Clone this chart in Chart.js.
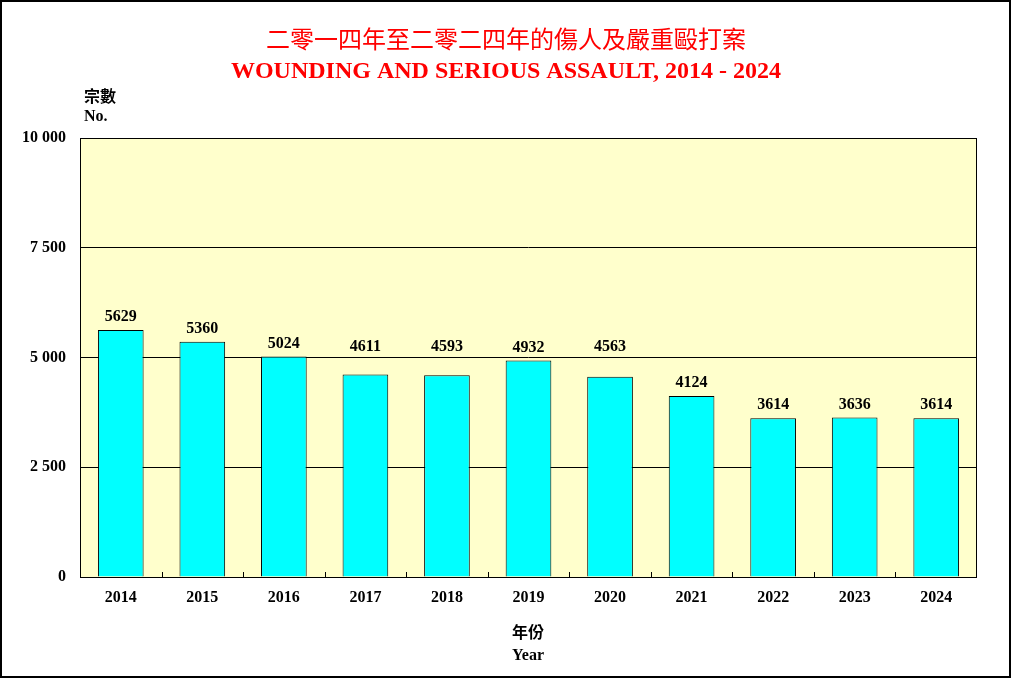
<!DOCTYPE html>
<html>
<head>
<meta charset="utf-8">
<script src="https://cdn.jsdelivr.net/npm/chart.js@4"></script>
<style>
  html, body { margin: 0; padding: 0; background: #fff; }
  #wrap { width: 1011px; height: 678px; position: relative; }
</style>
</head>
<body>
<div id="wrap"><canvas id="assaultChart"></canvas></div>
<script>
// ===== data =====
const years = ['2014', '2015', '2016', '2017', '2018', '2019', '2020', '2021', '2022', '2023', '2024'];
const cases = [5629, 5360, 5024, 4611, 4593, 4932, 4563, 4124, 3614, 3636, 3614];
const yTicks = [0, 2500, 5000, 7500, 10000];

const SERIF = '"Liberation Serif", "Times New Roman", serif';
const CJK = '"Liberation Serif", "Noto Sans CJK TC", serif';

// labels, frame, titles
const decorPlugin = {
    id: 'decor',
    beforeDraw(chart) {
        const { ctx, chartArea: a } = chart;
        ctx.save();
        ctx.fillStyle = '#fff';
        ctx.fillRect(0, 0, chart.width, chart.height);
        ctx.fillStyle = '#FFFFCC';
        ctx.fillRect(a.left, a.top, a.right - a.left, a.bottom - a.top);
        ctx.restore();
    },
    afterDatasetsDraw(chart) {
        const { ctx, chartArea: a } = chart;
        const yScale = chart.scales.y;
        ctx.save();
        // plot frame
        ctx.strokeStyle = '#000';
        ctx.lineWidth = 1;
        ctx.strokeRect(a.left + 0.5, a.top + 0.5, a.right - a.left - 1, a.bottom - a.top);
        // small inward ticks on category boundaries
        const n = years.length;
        const w = (a.right - a.left) / n;
        ctx.beginPath();
        for (let i = 1; i < n; i++) {
            const x = Math.round(a.left + w * i) + 0.5;
            ctx.moveTo(x, a.bottom);
            ctx.lineTo(x, a.bottom - 5);
        }
        ctx.stroke();

        // value labels (lifted above a gridline if they would sit on it)
        const gridYs = yTicks.map(v => yScale.getPixelForValue(v));
        ctx.fillStyle = '#000';
        ctx.font = 'bold 16px ' + SERIF;
        ctx.textAlign = 'center';
        ctx.textBaseline = 'bottom';
        chart.getDatasetMeta(0).data.forEach((bar, i) => {
            let y = bar.y - 5;
            gridYs.forEach(gy => {
                if (gy >= y - 18 && gy <= y + 1) y = gy - 3;
            });
            ctx.fillText(String(cases[i]), bar.x, y);
        });

        // titles
        ctx.textBaseline = 'middle';
        ctx.fillStyle = '#FF0000';
        ctx.font = '24px ' + CJK;
        ctx.fillText('二零一四年至二零二四年的傷人及嚴重毆打案', 506, 42);
        ctx.font = 'bold 24px ' + SERIF;
        ctx.fillText('WOUNDING AND SERIOUS ASSAULT, 2014 - 2024', 506, 72);

        // axis titles
        ctx.fillStyle = '#000';
        ctx.textAlign = 'left';
        ctx.font = 'bold 16px ' + CJK;
        ctx.fillText('宗數', 84, 98);
        ctx.font = 'bold 16px ' + SERIF;
        ctx.fillText('No.', 84, 117);
        ctx.textAlign = 'center';
        ctx.font = 'bold 16px ' + CJK;
        ctx.fillText('年份', 528, 634);
        ctx.font = 'bold 16px ' + SERIF;
        ctx.fillText('Year', 528, 656);

        // outer border
        ctx.lineWidth = 2;
        ctx.strokeRect(1, 1, chart.width - 2, chart.height - 2);
        ctx.restore();
    }
};

new Chart(document.getElementById('assaultChart'), {
    type: 'bar',
    data: {
        labels: years,
        datasets: [{
            data: cases,
            backgroundColor: '#00FFFF',
            borderColor: '#000000',
            borderWidth: 1,
            barPercentage: 0.56,
            categoryPercentage: 1.0
        }]
    },
    options: {
        responsive: true,
        maintainAspectRatio: false,
        animation: false,
        layout: { padding: { left: 0, right: 34, top: 138, bottom: 0 } },
        plugins: {
            legend: { display: false },
            tooltip: { enabled: false }
        },
        scales: {
            x: {
                grid: { display: false, drawTicks: false },
                border: { display: false },
                afterFit(scale) { scale.height = 101; },
                ticks: {
                    color: '#000',
                    padding: 11,
                    maxRotation: 0,
                    font: { family: SERIF, size: 16, weight: 'bold' }
                }
            },
            y: {
                min: 0,
                max: 10000,
                afterFit(scale) { scale.width = 80; },
                afterBuildTicks(scale) { scale.ticks = yTicks.map(v => ({ value: v })); },
                grid: { color: '#000', lineWidth: 1, drawTicks: false },
                border: { display: false },
                ticks: {
                    color: '#000',
                    padding: 14,
                    font: { family: SERIF, size: 16, weight: 'bold' },
                    callback(value) {
                        return String(value).replace(/\B(?=(\d{3})+(?!\d))/g, ' ');
                    }
                }
            }
        }
    },
    plugins: [decorPlugin]
});
</script>
</body>
</html>
